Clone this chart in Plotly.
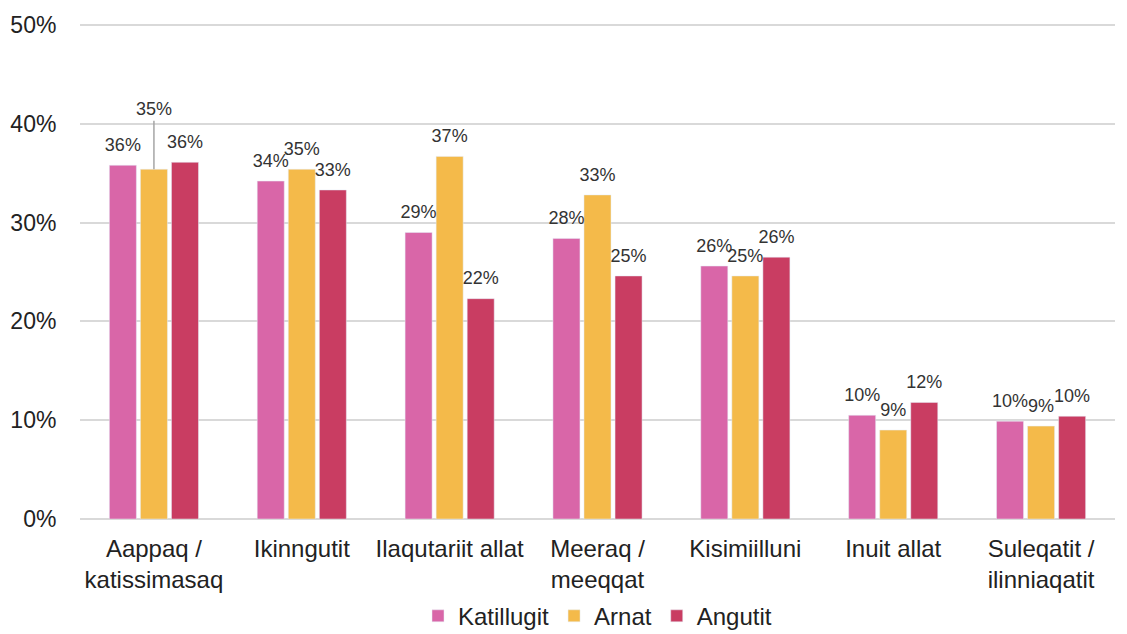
import plotly.graph_objects as go

categories = ["Aappaq /<br>katissimasaq", "Ikinngutit", "Ilaqutariit allat", "Meeraq /<br>meeqqat",
              "Kisimiilluni", "Inuit allat", "Suleqatit /<br>ilinniaqatit"]
katillugit = [0.358, 0.342, 0.290, 0.284, 0.256, 0.105, 0.099]
arnat = [0.354, 0.354, 0.367, 0.328, 0.246, 0.090, 0.094]
angutit = [0.361, 0.333, 0.223, 0.246, 0.265, 0.118, 0.104]

colors = {"Katillugit": "#D966A8", "Arnat": "#F4BA4A", "Angutit": "#C93D62"}
series = [("Katillugit", katillugit), ("Arnat", arnat), ("Angutit", angutit)]

fig = go.Figure()
for name, vals in series:
    fig.add_trace(go.Bar(x=categories, y=vals, name=name, marker_color=colors[name],
                         offsetgroup=name, hoverinfo="skip"))

# value labels, set a little above the bar tops
for name, vals in series:
    texts = [f"{v:.0%}" for v in vals]
    if name == "Arnat":
        texts[0] = ""  # drawn with a leader line below
    fig.add_trace(go.Scatter(
        x=categories, y=vals, mode="markers+text", text=texts, textposition="top center",
        marker=dict(size=14, opacity=0), offsetgroup=name, showlegend=False, cliponaxis=False,
        textfont=dict(size=18, color="#333333"),
    ))

fig.add_annotation(x=categories[0], y=arnat[0], text=f"{arnat[0]:.0%}", showarrow=True,
                   arrowhead=0, arrowwidth=1.5, arrowcolor="#A6A6A6", ax=0, ay=-60,
                   font=dict(size=18, color="#333333"))

# page body has an 8px margin, so the figure is sized to fit the window
fig.update_layout(
    width=1119, height=626,
    margin=dict(l=72, r=12, t=15, b=115, autoexpand=False),
    plot_bgcolor="white", paper_bgcolor="white",
    font=dict(family="Liberation Sans, Arial", color="#222222"),
    barmode="group", bargap=0.37, bargroupgap=0.13,
    scattermode="group", scattergap=0.37,
    yaxis=dict(range=[0, 0.502], dtick=0.1, tickformat=".0%", showgrid=True,
               gridcolor="#D9D9D9", gridwidth=1.5, zeroline=True, zerolinecolor="#D9D9D9",
               zerolinewidth=1.5, tickfont=dict(size=23), ticks="outside", ticklen=18,
               tickcolor="rgba(0,0,0,0)", automargin=False),
    xaxis=dict(tickfont=dict(size=24), showline=False, ticks="outside", ticklen=8,
               tickcolor="rgba(0,0,0,0)", automargin=False),
    showlegend=True,
    legend=dict(orientation="h", x=0.5, xanchor="center", y=-0.196, yanchor="middle",
                font=dict(size=24)),
)

fig.write_html("out.html")
